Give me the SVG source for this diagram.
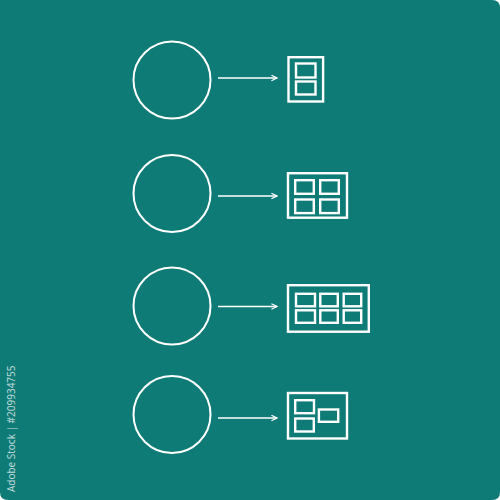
<svg xmlns="http://www.w3.org/2000/svg" width="500" height="500" viewBox="0 0 500 500">
<defs>
<style>
.c{fill:none;stroke:#fff;stroke-width:2}
.r{fill:none;stroke:#fff;stroke-width:2.4}
.l{fill:none;stroke:#fff;stroke-width:1.5}
.wm{font-family:"Open Sans","Liberation Sans",sans-serif;font-size:10px;fill:#fff;fill-opacity:0.75}
</style>
<marker id="ah" viewBox="0 0 10 10" refX="9" refY="5" markerWidth="7" markerHeight="7" markerUnits="userSpaceOnUse" orient="auto">
<path d="M1,1 L9,5 L1,9" fill="none" stroke="#fff" stroke-width="1.6"/>
</marker>
</defs>
<path d="M0,0 H492 Q500,0 500,8 V492 Q500,500 492,500 H8 Q0,500 0,492 Z" fill="#0f7b77"/>
<text class="wm" transform="translate(15,492) rotate(-90)">Adobe Stock | #209934755</text>
<g id="row1">
<circle class="c" cx="172" cy="80" r="38.5"/>
<rect class="r" x="288.5" y="57.2" width="34.6" height="44.3"/>
<rect class="r" x="296" y="63.5" width="19.5" height="14"/>
<rect class="r" x="296" y="81.5" width="19.5" height="13"/>
</g>
<g id="row2">
<circle class="c" cx="172" cy="193.5" r="38.5"/>
<rect class="r" x="288" y="173.2" width="59" height="44.5"/>
<rect class="r" x="295.2" y="180.2" width="18.6" height="13.6"/>
<rect class="r" x="320.2" y="180.2" width="18.6" height="13.6"/>
<rect class="r" x="295.2" y="199.5" width="18.6" height="13.6"/>
<rect class="r" x="320.2" y="199.5" width="18.6" height="13.6"/>
</g>
<g id="row3">
<circle class="c" cx="172" cy="306" r="38.5"/>
<rect class="r" x="288" y="285.2" width="80.8" height="46.5"/>
<rect class="r" x="296" y="293.8" width="19" height="12.5"/>
<rect class="r" x="320.3" y="293.8" width="17.5" height="12.5"/>
<rect class="r" x="343.7" y="293.8" width="17.5" height="12.5"/>
<rect class="r" x="296" y="310.3" width="19" height="12.5"/>
<rect class="r" x="320.3" y="310.3" width="17.5" height="12.5"/>
<rect class="r" x="343.7" y="310.3" width="17.5" height="12.5"/>
</g>
<g id="row4">
<circle class="c" cx="172" cy="414.5" r="38.5"/>
<rect class="r" x="288" y="393" width="59" height="45.5"/>
<rect class="r" x="295.2" y="400.2" width="18.8" height="13"/>
<rect class="r" x="295.2" y="418.5" width="18.6" height="13"/>
<rect class="r" x="318.9" y="409.5" width="19.3" height="12.3"/>
</g>
<g id="connectors">
<line class="l" x1="218" y1="78" x2="277" y2="78" marker-end="url(#ah)"/>
<line class="l" x1="218" y1="196" x2="277" y2="196" marker-end="url(#ah)"/>
<line class="l" x1="218" y1="306.5" x2="277" y2="306.5" marker-end="url(#ah)"/>
<line class="l" x1="218" y1="418" x2="277" y2="418" marker-end="url(#ah)"/>
</g>
</svg>
